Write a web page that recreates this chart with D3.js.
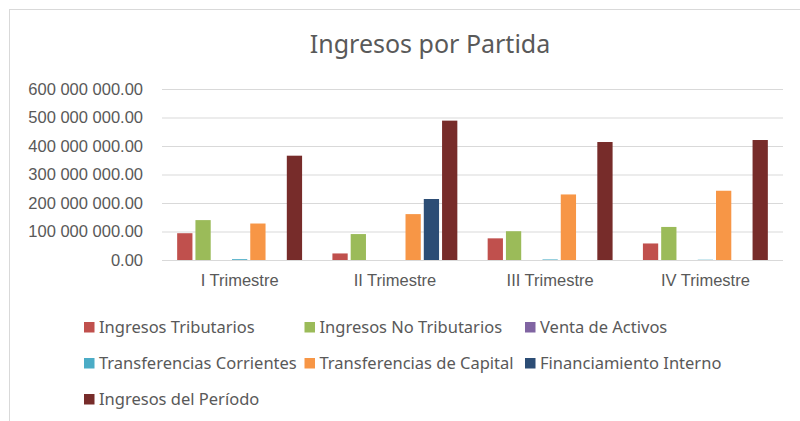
<!DOCTYPE html>
<html>
<head>
<meta charset="utf-8">
<script src="https://cdn.jsdelivr.net/npm/d3@7"></script>
<style>
    body { margin: 0; background: #fff; }
    svg { display: block; font-family: 'Noto Sans', sans-serif; }
    .tick text { fill: #595959; }
</style>
</head>
<body>
<div id="chart"></div>
<script>
var categories = ['I Trimestre', 'II Trimestre', 'III Trimestre', 'IV Trimestre'];

var seriesNames = [
    'Ingresos Tributarios',
    'Ingresos No Tributarios',
    'Venta de Activos',
    'Transferencias Corrientes',
    'Transferencias de Capital',
    'Financiamiento Interno',
    'Ingresos del Período'
];

// valores, uno por trimestre
var ingresosTributarios     = [94000000, 23000000, 76000000, 58000000];
var ingresosNoTributarios   = [140000000, 91000000, 101000000, 116000000];
var ventaActivos            = [0, 0, 0, 0];
var transfCorrientes        = [3000000, 0, 2000000, 1000000];
var transfCapital           = [128000000, 161000000, 230000000, 243000000];
var financiamientoInterno   = [0, 214000000, 0, 0];
var ingresosPeriodo         = [366000000, 489000000, 414000000, 421000000];

var yTicks = [0, 100000000, 200000000, 300000000, 400000000, 500000000, 600000000];

var colors = ['#C0504D', '#9BBB59', '#8064A2', '#4BACC6', '#F79646', '#2C4D75', '#772C2A'];

var seriesValues = [ingresosTributarios, ingresosNoTributarios, ventaActivos,
    transfCorrientes, transfCapital, financiamientoInterno, ingresosPeriodo];

var width = 800, height = 421,
    plot = {left: 162, right: 783, top: 89, bottom: 260};

var svg = d3.select('#chart').append('svg')
    .attr('width', width)
    .attr('height', height);

svg.append('rect')
    .attr('x', 9.5).attr('y', 9.5)
    .attr('width', width).attr('height', height)
    .attr('fill', 'none')
    .attr('stroke', '#d9d9d9');

svg.append('text')
    .attr('x', 430).attr('y', 53)
    .attr('text-anchor', 'middle')
    .style('font-size', '25px')
    .style('fill', '#595959')
    .text('Ingresos por Partida');

var x0 = d3.scaleBand().domain(categories).range([plot.left, plot.right]),
    gap = x0.bandwidth() * 0.088,
    x1 = d3.scaleBand().domain(d3.range(seriesNames.length)).range([gap, x0.bandwidth() - gap]),
    y = d3.scaleLinear().domain([0, 600000000]).range([plot.bottom, plot.top]);

var fmt = function(v) {
    return d3.format(',.2f')(v).replace(/,/g, ' ');
};

// lineas de cuadricula + etiquetas eje y
var yAxis = svg.append('g')
    .attr('transform', 'translate(' + plot.left + ',0)')
    .call(d3.axisLeft(y).tickValues(yTicks).tickFormat(fmt).tickSize(-(plot.right - plot.left)).tickPadding(19));

yAxis.select('.domain').remove();
yAxis.selectAll('.tick line').attr('stroke', '#d9d9d9');
yAxis.selectAll('.tick text').style('font-size', '16.5px');

var xAxis = svg.append('g')
    .attr('transform', 'translate(0,' + plot.bottom + ')')
    .call(d3.axisBottom(x0).tickSize(0).tickPadding(14));

xAxis.select('.domain').remove();
xAxis.selectAll('.tick text').style('font-size', '16.5px');

var rows = [];
categories.forEach(function(cat, ci) {
    seriesValues.forEach(function(vals, si) {
        rows.push({cat: cat, series: si, value: vals[ci]});
    });
});

svg.append('g').selectAll('rect')
    .data(rows)
    .enter()
    .append('rect')
    .attr('x', function(d) { return x0(d.cat) + x1(d.series) + 1.5; })
    .attr('width', x1.bandwidth() - 3)
    .attr('y', function(d) { return y(d.value); })
    .attr('height', function(d) { return y(0) - y(d.value); })
    .attr('fill', function(d) { return colors[d.series]; });

// leyenda, 3 columnas
var legend = svg.append('g').selectAll('g')
    .data(seriesNames)
    .enter()
    .append('g')
    .attr('transform', function(d, i) {
        return 'translate(' + (84 + (i % 3) * 220.5) + ',' + (333 + Math.floor(i / 3) * 36) + ')';
    });

legend.append('rect')
    .attr('x', 0).attr('y', -11)
    .attr('width', 10.5).attr('height', 10.5)
    .attr('fill', function(d, i) { return colors[i]; });

legend.append('text')
    .attr('x', 15)
    .style('font-size', '16.5px')
    .style('fill', '#595959')
    .text(function(d) { return d; });
</script>
</body>
</html>
